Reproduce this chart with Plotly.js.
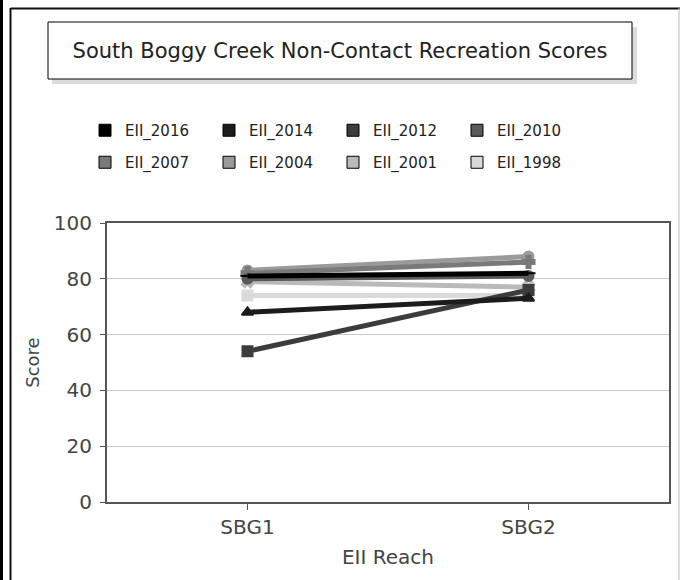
<!DOCTYPE html>
<html>
<head>
<meta charset="utf-8">
<script src="https://cdn.plot.ly/plotly-3.0.1.min.js"></script>
<style>html,body{margin:0;padding:0;background:#fff;}</style>
</head>
<body>
<div id="chart" style="width:680px;height:580px;"></div>
<script>
const reaches = ["SBG1", "SBG2"];
const seriesNames = ["EII_2016", "EII_2014", "EII_2012", "EII_2010", "EII_2007", "EII_2004", "EII_2001", "EII_1998"];
const eii2016 = [81, 82];
const eii2014 = [68, 73];
const eii2012 = [54, 76];
const eii2010 = [80, 81];
const eii2007 = [82, 86];
const eii2004 = [83, 88];
const eii2001 = [79, 77];
const eii1998 = [74, 74];
const seriesValues = [eii2016, eii2014, eii2012, eii2010, eii2007, eii2004, eii2001, eii1998];
const seriesColors = ["#000000", "#1c1c1c", "#3c3c3c", "#5a5a5a", "#7a7a7a", "#9a9a9a", "#bababa", "#dadada"];
const seriesSymbols = ["line-ew", "triangle-up", "square", "circle", "cross", "circle", "x", "square"];
const yTicks = [0, 20, 40, 60, 80, 100];

// plot area in pixels
const L = 107, R = 669, T = 223, B = 502;
const px = x => (x - L) / (R - L);
const py = y => (B - y) / (B - T);

const traces = [];
// draw in reverse order so the first series ends on top
for (let i = seriesNames.length - 1; i >= 0; i--) {
  traces.push({
    x: reaches, y: seriesValues[i], type: "scatter", mode: "lines+markers",
    name: seriesNames[i], showlegend: false,
    line: {color: seriesColors[i], width: 5},
    marker: {color: seriesColors[i], size: 10, symbol: seriesSymbols[i],
             line: {color: seriesColors[i], width: 2}},
    hoverinfo: "skip"
  });
}
// legend entries (square swatches), two rows = two legends
for (let i = 0; i < seriesNames.length; i++) {
  traces.push({
    x: [null], y: [null], type: "scatter", mode: "markers",
    name: seriesNames[i], showlegend: true, legend: i < 4 ? "legend" : "legend2",
    marker: {color: seriesColors[i], size: 12, symbol: "square",
             line: {color: "#000", width: 1}}
  });
}

const shapes = [
  {type: "line", xref: "paper", yref: "paper", x0: px(1.5), x1: px(1.5), y0: py(0), y1: py(580),
   line: {color: "#000", width: 3}},
  {type: "line", xref: "paper", yref: "paper", x0: px(10.5), x1: px(10.5), y0: py(8), y1: py(580),
   line: {color: "#111", width: 2}},
  {type: "line", xref: "paper", yref: "paper", x0: px(10.5), x1: px(680), y0: py(8.5), y1: py(8.5),
   line: {color: "#111", width: 2}},
  {type: "line", xref: "paper", yref: "paper", x0: px(679), x1: px(679), y0: py(8), y1: py(580),
   line: {color: "#bbb", width: 1}},
  {type: "rect", xref: "paper", yref: "paper", x0: px(52), x1: px(637), y0: py(27), y1: py(84),
   fillcolor: "#dcdcdc", line: {width: 0}, layer: "below"},
  {type: "rect", xref: "paper", yref: "paper", x0: px(48), x1: px(632), y0: py(22), y1: py(79),
   fillcolor: "#ffffff", line: {color: "#000", width: 1}, layer: "below"}
];

const legendBase = {orientation: "h", xanchor: "left", yanchor: "top",
  entrywidth: 79, entrywidthmode: "pixels", itemwidth: 30,
  font: {size: 15, color: "#222"}, bgcolor: "rgba(0,0,0,0)"};

const layout = {
  width: 680, height: 580,
  paper_bgcolor: "#ffffff", plot_bgcolor: "#ffffff",
  margin: {l: L, r: 680 - R, t: T, b: 580 - B, pad: 0},
  font: {family: "DejaVu Sans, sans-serif", color: "#333"},
  title: {text: "South Boggy Creek Non-Contact Recreation Scores",
          x: 340 / 680, xanchor: "center", xref: "container",
          y: 1 - 51 / 580, yanchor: "middle", yref: "container",
          font: {size: 21, color: "#222", family: "DejaVu Sans, sans-serif"}},
  showlegend: true,
  legend: Object.assign({}, legendBase, {x: px(85), y: py(114)}),
  legend2: Object.assign({}, legendBase, {x: px(85), y: py(146)}),
  xaxis: {type: "category", range: [-0.5, 1.5], showgrid: false,
          showline: true, linecolor: "#555", linewidth: 2, mirror: true,
          ticks: "outside", ticklen: 6, tickcolor: "#555", tickwidth: 1,
          tickfont: {size: 20, color: "#444"},
          title: {text: "EII Reach", font: {size: 20, color: "#444"}, standoff: 12},
          zeroline: false, fixedrange: true},
  yaxis: {range: [0, 100], tickvals: yTicks, ticktext: yTicks.map(String),
          showgrid: true, gridcolor: "#c8c8c8", gridwidth: 1,
          showline: true, linecolor: "#555", linewidth: 2, mirror: true,
          ticks: "outside", ticklen: 5, tickcolor: "#555", tickwidth: 1,
          ticklabelstandoff: 4,
          tickfont: {size: 20, color: "#444"},
          title: {text: "Score", font: {size: 18, color: "#444"}, standoff: 10},
          zeroline: false, fixedrange: true},
  shapes: shapes
};

Plotly.newPlot("chart", traces, layout, {displayModeBar: false, staticPlot: true});
</script>
</body>
</html>
